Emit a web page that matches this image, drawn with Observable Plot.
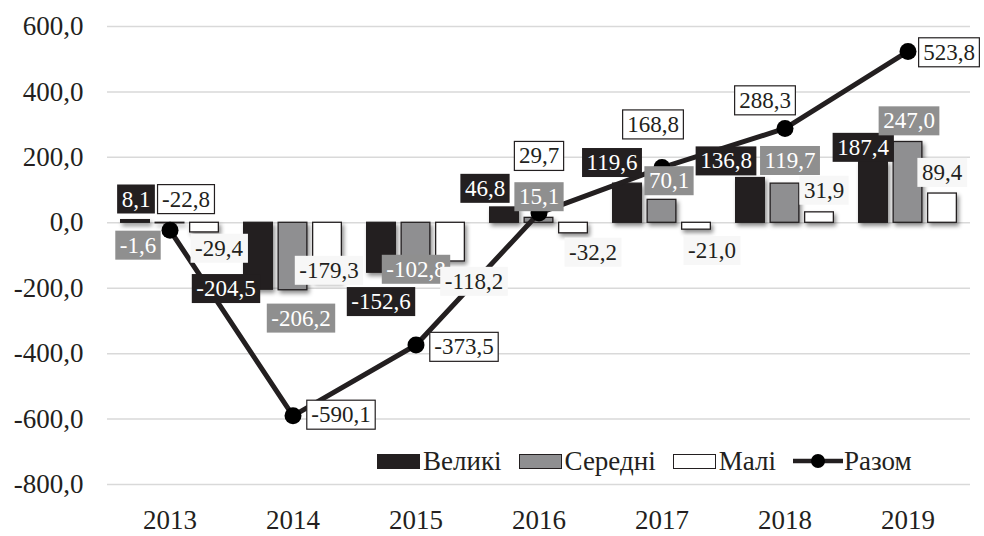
<!DOCTYPE html>
<html>
<head>
<meta charset="utf-8">
<style>
  body { margin: 0; background: #fff; }
  #wrap { position: relative; width: 984px; height: 536px; color: #231f20; font-family: 'Liberation Serif', 'Times New Roman', serif; }
  #wrap svg { display: block; }
  #chart g[aria-label="bar"] { filter: drop-shadow(2px 3px 2px rgba(0,0,0,0.45)); }
  #legend { position: absolute; left: 377px; top: 446px; height: 30px; display: flex; align-items: center; font-size: 27px; line-height: 30px; white-space: nowrap; }
  #legend .sw { display: inline-block; width: 43px; height: 15px; box-sizing: border-box; border: 1.3px solid #231f20; margin-right: 3px; }
  #legend .lab { margin-right: 17px; }
  #legend svg { margin-right: 1px; }
</style>
<script src="https://cdn.jsdelivr.net/npm/d3@7"></script>
<script src="https://cdn.jsdelivr.net/npm/@observablehq/plot@0.6"></script>
</head>
<body>
<div id="wrap">
  <div id="chart"></div>
  <div id="legend"></div>
</div>
<script>
// ---- data ----
const years = ["2013", "2014", "2015", "2016", "2017", "2018", "2019"];
const velyki = [8.1, -204.5, -152.6, 46.8, 119.6, 136.8, 187.4];
const seredni = [-1.6, -206.2, -102.8, 15.1, 70.1, 119.7, 247.0];
const mali = [-29.4, -179.3, -118.2, -32.2, -21.0, 31.9, 89.4];
const razom = [-22.8, -590.1, -373.5, 29.7, 168.8, 288.3, 523.8];
const seriesNames = ["Великі", "Середні", "Малі", "Разом"];
const yTicks = [-800, -600, -400, -200, 0, 200, 400, 600];

// ---- styling: label nudges in px (dx, dy) relative to each data point, per year ----
const nudgeVelyki = [[-34, -21], [-67, -1], [-35, 29], [-54, -19], [-50, -21], [-59, -17], [-45, -14]];
const nudgeSeredni = [[-32, 22], [8, 28], [0, 13], [0, -21], [7, -19], [5, -23], [1, -21]];
const nudgeMali = [[49, 16], [36, -11], [58, 20], [54, 19], [50, 21], [39, -22], [34, -21]];
const nudgeRazom = [[16, -31], [48, -1], [48, 2], [0, -57], [-9, -43], [-20, -28], [41, 1]];

// ---- layout / style ----
const FONT = "Liberation Serif";
const W = 984, H = 536, mL = 107, mR = 14, mT = 26, mB = 52;
const step = (W - mL - mR) / years.length;
const barW = 29, pitch = 34.5;
const outer = (step - (2 * pitch + barW)) / 2;
const insets = i => ({ insetLeft: outer + i * pitch, insetRight: step - (outer + i * pitch) - barW });
const ink = "#231f20";
const fmt = v => v.toFixed(1).replace(".", ",");
const rows = vals => years.map((year, i) => ({ year, value: vals[i] }));

const barSeries = [
  { vals: velyki, fill: ink },
  { vals: seredni, fill: "#8f8f91" },
  { vals: mali, fill: "#ffffff" }
];
const labelSeries = [
  { key: "lbl-0", vals: velyki, nudge: nudgeVelyki, text: "#ffffff", box: ink, boxStroke: "none" },
  { key: "lbl-1", vals: seredni, nudge: nudgeSeredni, text: "#ffffff", box: "#8f8f8f", boxStroke: "none" },
  { key: "lbl-2", vals: mali, nudge: nudgeMali, text: ink, box: "#f7f7f7", boxStroke: "none" },
  { key: "lbl-3", vals: razom, nudge: nudgeRazom, text: ink, box: "#ffffff", boxStroke: ink }
];

const marks = [
  Plot.gridY(yTicks, { stroke: "#d9d9d9", strokeOpacity: 1, strokeWidth: 1.5 }),
  Plot.axisY(yTicks, { tickSize: 0, tickPadding: 24, tickFormat: fmt, fontSize: 27, fontFamily: FONT, fill: ink }),
  Plot.axisX({ tickSize: 0, tickPadding: 25, fontSize: 27, fontFamily: FONT, fill: ink }),
  ...barSeries.map((s, i) => Plot.barY(rows(s.vals), {
    x: "year", y: "value", fill: s.fill, stroke: ink, strokeWidth: 1.3, ...insets(i)
  })),
  Plot.line(rows(razom), { x: "year", y: "value", stroke: ink, strokeWidth: 5 }),
  Plot.dot(rows(razom), { x: "year", y: "value", r: 8.5, fill: "#000" })
];

labelSeries.forEach(s => {
  rows(s.vals).forEach((d, i) => {
    marks.push(Plot.text([d], {
      x: "year", y: "value", text: r => fmt(r.value),
      dx: s.nudge[i][0], dy: s.nudge[i][1],
      fill: s.text, fontSize: 23, fontFamily: FONT, ariaDescription: s.key
    }));
  });
});

const chart = Plot.plot({
  width: W, height: H,
  marginLeft: mL, marginRight: mR, marginTop: mT, marginBottom: mB,
  style: { fontFamily: FONT, fontSize: "27px", color: ink, background: "#fff", overflow: "visible" },
  x: { domain: years, padding: 0, label: null },
  y: { domain: [-800, 600], label: null },
  marks
});
document.getElementById("chart").appendChild(chart);

// label boxes (Excel-style filled data-label backgrounds)
const NS = "http://www.w3.org/2000/svg";
const textGroups = Array.from(chart.querySelectorAll('g[aria-label="text"]'));
labelSeries.forEach((spec, k) => {
  let groups = Array.from(chart.querySelectorAll(`g[aria-description="${spec.key}"]`));
  if (!groups.length) groups = textGroups.slice(k * years.length, (k + 1) * years.length);
  groups.forEach(g => g.querySelectorAll("text").forEach(t => {
    const bb = t.getBBox();
    const r = document.createElementNS(NS, "rect");
    const px = 4.5, py = 2;
    r.setAttribute("x", bb.x - px);
    r.setAttribute("y", bb.y - py);
    r.setAttribute("width", bb.width + 2 * px);
    r.setAttribute("height", bb.height + 2 * py);
    r.setAttribute("fill", spec.box);
    if (spec.boxStroke !== "none") { r.setAttribute("stroke", spec.boxStroke); r.setAttribute("stroke-width", 1.2); }
    const tr = t.getAttribute("transform");
    if (tr) r.setAttribute("transform", tr);
    t.parentNode.insertBefore(r, t);
  }));
});

// legend
const legend = document.getElementById("legend");
const legendFills = ["#231f20", "#8f8f91", "#ffffff"];
seriesNames.forEach((name, i) => {
  if (i < 3) {
    const sw = document.createElement("span");
    sw.className = "sw";
    sw.style.background = legendFills[i];
    legend.appendChild(sw);
  } else {
    const s = document.createElementNS(NS, "svg");
    s.setAttribute("width", 50); s.setAttribute("height", 20);
    s.innerHTML = `<line x1="0" x2="50" y1="10" y2="10" stroke="${ink}" stroke-width="4.5"/><circle cx="25" cy="10" r="7" fill="#000"/>`;
    legend.appendChild(s);
  }
  const lab = document.createElement("span");
  lab.className = "lab";
  lab.textContent = name;
  legend.appendChild(lab);
});
</script>
</body>
</html>
